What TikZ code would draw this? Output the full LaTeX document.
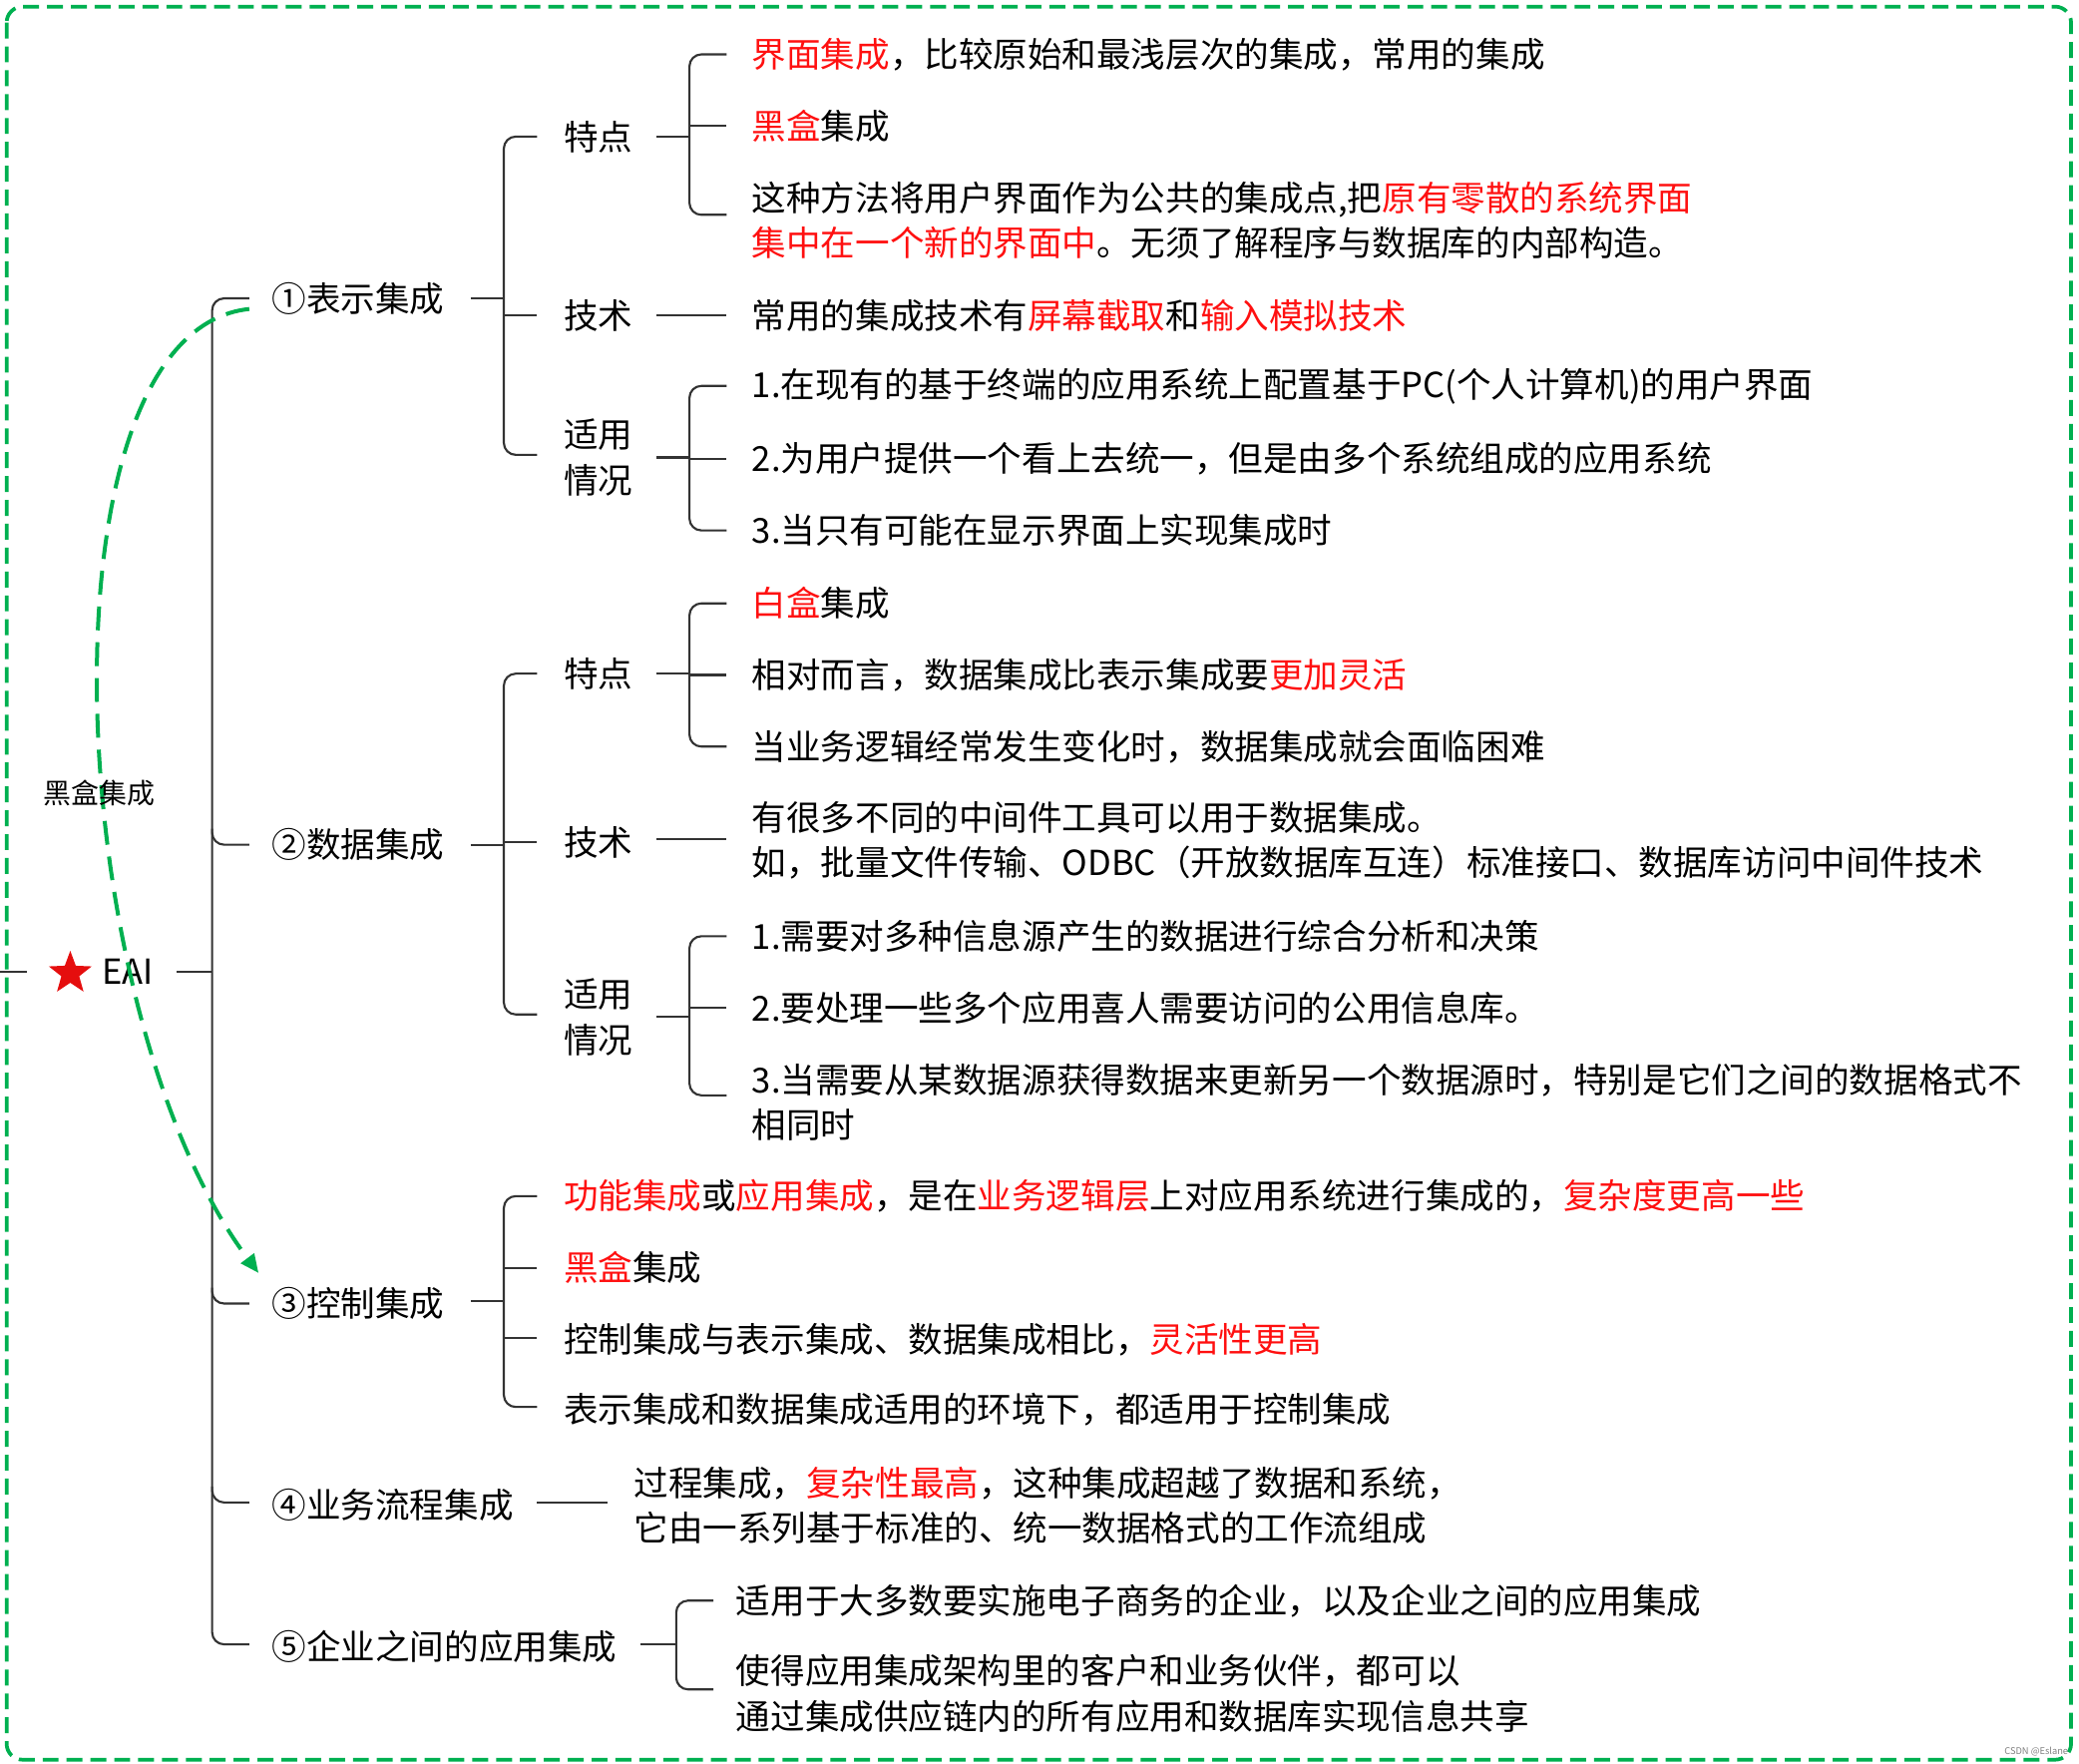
\documentclass[tikz,border=0pt]{standalone}
\usepackage{fontspec}
\newfontfamily\cjk{Noto Sans CJK SC}
\usetikzlibrary{shapes.geometric,arrows.meta}
\definecolor{rd}{HTML}{FF1010}
\definecolor{gr}{HTML}{00B050}
\definecolor{ln}{HTML}{333333}
\newcommand{\R}[1]{\textcolor{rd}{#1}}
\begin{document}
\begin{tikzpicture}[x=1pt,y=-1pt,
  lab/.style={anchor=west,inner sep=0pt,text=black,align=left,font=\cjk\fontsize{26}{34}\selectfont},
  conn/.style={draw=ln,line width=1.6pt},
  br/.style={conn,rounded corners=9pt}]
\useasboundingbox (0,0) rectangle (1568,1330);
\draw[gr,line width=2.8pt,dash pattern=on 12pt off 6pt,rounded corners=12pt] (5,5) rectangle (1562,1327);
% root
\node[star,star points=5,star point ratio=2.4,fill=rd!90!black,minimum size=34pt,inner sep=0pt] (star) at (53,734) {};
\node[lab] (eai) at (77,733) {EAI};
\draw[conn] (0,733) -- (20,733);
\draw[conn] (133,733) -- (160,733);
% level 1
\node[lab] (n1) at (205,225) {①表示集成};
\node[lab] (n2) at (205,637) {②数据集成};
\node[lab] (n3) at (205,983) {③控制集成};
\node[lab] (n4) at (205,1135) {④业务流程集成};
\node[lab] (n5) at (205,1242) {⑤企业之间的应用集成};
\draw[br] (188,225) -- (160,225) -- (160,1240) -- (188,1240);
\foreach \y in {637,983,1133} \draw[br] (160,\y-12) -- (160,\y) -- (188,\y);
% ① children
\draw[conn] (355,225) -- (380,225);
\node[lab] (a1) at (425,103) {特点};
\node[lab] (a2) at (425,238) {技术};
\node[lab] (a3) at (425,345) {适用\\情况};
\draw[br] (405,103) -- (380,103) -- (380,343) -- (405,343);
\draw[conn] (380,238) -- (405,238);
\draw[conn] (495,103) -- (520,103);
\draw[br] (548,41) -- (520,41) -- (520,162) -- (548,162);
\draw[conn] (520,95) -- (548,95);
\node[lab] at (567,41) {\R{界面集成}，比较原始和最浅层次的集成，常用的集成};
\node[lab] at (567,95) {\R{黑盒}集成};
\node[lab] at (567,166) {这种方法将用户界面作为公共的集成点,把\R{原有零散的系统界面}\\\R{集中在一个新的界面中}。无须了解程序与数据库的内部构造。};
\draw[conn] (495,238) -- (548,238);
\node[lab] at (567,238) {常用的集成技术有\R{屏幕截取}和\R{输入模拟技术}};
\draw[conn] (495,345) -- (520,345);
\draw[br] (548,291) -- (520,291) -- (520,400) -- (548,400);
\draw[conn] (520,346) -- (548,346);
\node[lab] at (567,291) {1.在现有的基于终端的应用系统上配置基于PC(个人计算机)的用户界面};
\node[lab] at (567,346) {2.为用户提供一个看上去统一，但是由多个系统组成的应用系统};
\node[lab] at (567,400) {3.当只有可能在显示界面上实现集成时};
% ② children
\draw[conn] (355,637) -- (380,637);
\node[lab] (b1) at (425,508) {特点};
\node[lab] (b2) at (425,635) {技术};
\node[lab] (b3) at (425,767) {适用\\情况};
\draw[br] (405,508) -- (380,508) -- (380,765) -- (405,765);
\draw[conn] (380,635) -- (405,635);
\draw[conn] (495,508) -- (520,508);
\draw[br] (548,455) -- (520,455) -- (520,563) -- (548,563);
\draw[conn] (520,509) -- (548,509);
\node[lab] at (567,455) {\R{白盒}集成};
\node[lab] at (567,509) {相对而言，数据集成比表示集成要\R{更加灵活}};
\node[lab] at (567,563) {当业务逻辑经常发生变化时，数据集成就会面临困难};
\draw[conn] (495,633) -- (548,633);
\node[lab] at (567,634) {有很多不同的中间件工具可以用于数据集成。\\如，批量文件传输、ODBC（开放数据库互连）标准接口、数据库访问中间件技术};
\draw[conn] (495,767) -- (520,767);
\draw[br] (548,706) -- (520,706) -- (520,826) -- (548,826);
\draw[conn] (520,760) -- (548,760);
\node[lab] at (567,706) {1.需要对多种信息源产生的数据进行综合分析和决策};
\node[lab] at (567,760) {2.要处理一些多个应用喜人需要访问的公用信息库。};
\node[lab] at (567,831) {3.当需要从某数据源获得数据来更新另一个数据源时，特别是它们之间的数据格式不\\相同时};
% ③ children
\draw[conn] (355,981) -- (380,981);
\draw[br] (405,902) -- (380,902) -- (380,1061) -- (405,1061);
\draw[conn] (380,956) -- (405,956);
\draw[conn] (380,1009) -- (405,1009);
\node[lab] at (425,902) {\R{功能集成}或\R{应用集成}，是在\R{业务逻辑层}上对应用系统进行集成的，\R{复杂度更高一些}};
\node[lab] at (425,956) {\R{黑盒}集成};
\node[lab] at (425,1010) {控制集成与表示集成、数据集成相比，\R{灵活性更高}};
\node[lab] at (425,1063) {表示集成和数据集成适用的环境下，都适用于控制集成};
% ④
\draw[conn] (405,1133) -- (458,1133);
\node[lab] at (478,1135) {过程集成，\R{复杂性最高}，这种集成超越了数据和系统，\\它由一系列基于标准的、统一数据格式的工作流组成};
% ⑤
\draw[conn] (483,1240) -- (510,1240);
\draw[br] (538,1207) -- (510,1207) -- (510,1274) -- (538,1274);
\node[lab] at (555,1207) {适用于大多数要实施电子商务的企业，以及企业之间的应用集成};
\node[lab] at (555,1277) {使得应用集成架构里的客户和业务伙伴，都可以\\通过集成供应链内的所有应用和数据库实现信息共享};
% dashed arrow
\draw[gr,line width=3pt,dash pattern=on 18pt off 9pt,-{Triangle[length=14pt,width=12pt]}]
  (188,233) .. controls (25,250) and (45,760) .. (195,960);
\node[inner sep=0pt,font=\cjk\fontsize{21}{24}\selectfont] at (75,598) {黑盒集成};
\node[anchor=east,inner sep=0pt,text=gray,font=\cjk\fontsize{7}{8}\selectfont] at (1560,1321) {CSDN @Eslane};
\end{tikzpicture}
\end{document}
